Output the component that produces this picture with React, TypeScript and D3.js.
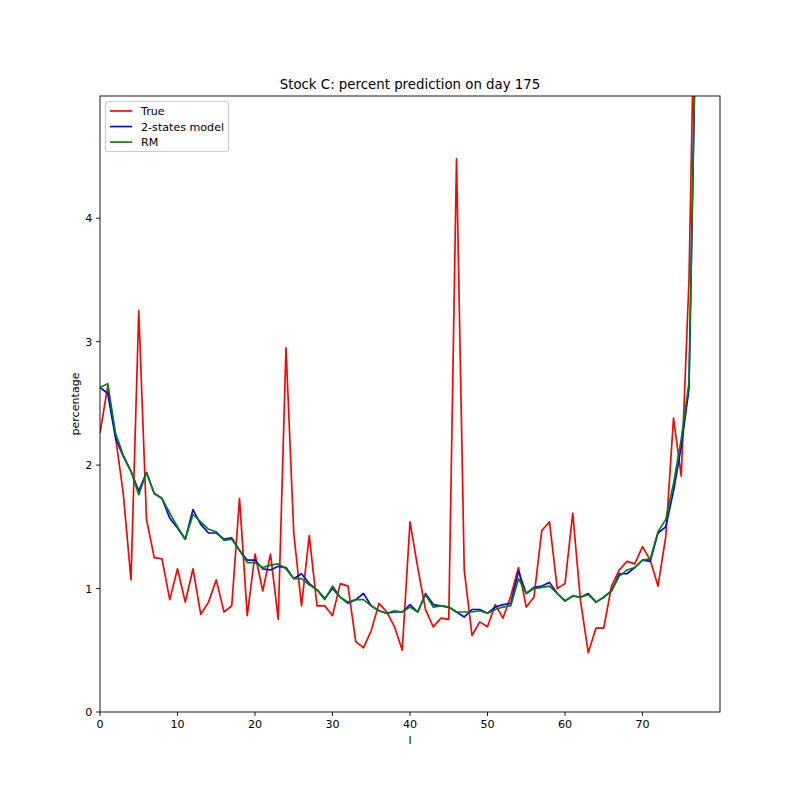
import React from 'react';
import * as d3 from 'd3';

// values, index 0..77
const trueVals = [
  2.26, 2.64, 2.23, 1.77, 1.07, 3.25, 1.56, 1.25, 1.24, 0.91,
  1.16, 0.89, 1.16, 0.79, 0.89, 1.07, 0.81, 0.86, 1.73, 0.78,
  1.28, 0.98, 1.28, 0.75, 2.95, 1.45, 0.86, 1.43, 0.86, 0.86,
  0.78, 1.04, 1.02, 0.57, 0.52, 0.66, 0.88, 0.81, 0.69, 0.5,
  1.54, 1.17, 0.83, 0.69, 0.76, 0.75, 4.48, 1.15, 0.62, 0.73,
  0.69, 0.87, 0.76, 0.94, 1.17, 0.85, 0.93, 1.47, 1.54, 1.0,
  1.04, 1.61, 0.9, 0.48, 0.68, 0.68, 1.02, 1.15, 1.22, 1.2,
  1.34, 1.23, 1.02, 1.42, 2.38, 1.91, 3.5, 6.8,
];
const twoStates = [
  2.63, 2.58, 2.22, 2.07, 1.95, 1.79, 1.94, 1.77, 1.73, 1.57,
  1.49, 1.4, 1.64, 1.52, 1.45, 1.45, 1.4, 1.41, 1.31, 1.23,
  1.23, 1.16, 1.15, 1.18, 1.17, 1.08, 1.12, 1.04, 0.99, 0.92,
  1.0, 0.93, 0.88, 0.91, 0.96, 0.86, 0.82, 0.8, 0.81, 0.81,
  0.87, 0.81, 0.96, 0.87, 0.86, 0.85, 0.81, 0.77, 0.83, 0.83,
  0.8, 0.85, 0.87, 0.88, 1.14, 0.96, 1.01, 1.02, 1.05, 0.96,
  0.9, 0.94, 0.93, 0.96, 0.89, 0.93, 0.98, 1.12, 1.12, 1.17,
  1.23, 1.22, 1.45, 1.5, 1.79, 2.15, 2.62, 6.05,
];
const rmVals = [
  2.63, 2.66, 2.26, 2.08, 1.95, 1.76, 1.94, 1.77, 1.73, 1.61,
  1.5, 1.4, 1.6, 1.54, 1.48, 1.46, 1.39, 1.4, 1.31, 1.21,
  1.21, 1.17, 1.19, 1.2, 1.16, 1.08, 1.08, 1.03, 0.99, 0.91,
  1.02, 0.93, 0.89, 0.91, 0.91, 0.86, 0.82, 0.8, 0.82, 0.81,
  0.85, 0.81, 0.95, 0.85, 0.86, 0.85, 0.81, 0.81, 0.81, 0.82,
  0.8, 0.83, 0.85, 0.86, 1.08, 0.96, 1.0, 1.01, 1.02, 0.96,
  0.9, 0.94, 0.93, 0.95, 0.89, 0.93, 0.98, 1.1, 1.15, 1.17,
  1.23, 1.24, 1.46, 1.56, 1.85, 2.21, 2.67, 6.0,
];

const seriesNames = ['True', '2-states model', 'RM'];
const seriesColors = ['#ff0000', '#0000ff', '#008000'];
const xTicks = [0, 10, 20, 30, 40, 50, 60, 70];
const yTicks = [0, 1, 2, 3, 4];

const W = 800;
const H = 800;
const margin = { top: 96, right: 80, bottom: 88, left: 100 };
const font = '"DejaVu Sans", sans-serif';
const fs = 11.1;

export default function App() {
  const x = d3.scaleLinear().domain([0, 80]).range([margin.left, W - margin.right]);
  const y = d3.scaleLinear().domain([0, 4.99]).range([H - margin.bottom, margin.top]);

  const line = d3
    .line<number>()
    .x((_, i) => x(i))
    .y((d) => y(d));

  const series = [trueVals, twoStates, rmVals];
  const x0 = margin.left;
  const x1 = W - margin.right;
  const y0 = H - margin.bottom;
  const y1 = margin.top;
  const tick = 3.89;

  // legend layout (matplotlib-ish units)
  const lx = x0 + 5.56;
  const ly = y1 + 5.56;
  const rowH = 15.56;

  return (
    <svg
      width={W}
      height={H}
      style={{ position: 'absolute', left: 0, top: 0, background: '#fff' }}
      fontFamily={font}
    >
      <rect x={0} y={0} width={W} height={H} fill="#fff" />
      <defs>
        <clipPath id="plot">
          <rect x={x0} y={y1} width={x1 - x0} height={y0 - y1} />
        </clipPath>
      </defs>

      <g clipPath="url(#plot)">
        {series.map((s, k) => (
          <path
            key={k}
            d={line(s) || ''}
            fill="none"
            stroke={seriesColors[k]}
            strokeWidth={1.67}
            strokeLinejoin="round"
          />
        ))}
      </g>

      {/* spines */}
      <rect x={x0} y={y1} width={x1 - x0} height={y0 - y1} fill="none" stroke="#000" strokeWidth={0.9} />

      {/* x axis */}
      {xTicks.map((t) => (
        <g key={'x' + t}>
          <line x1={x(t)} x2={x(t)} y1={y0} y2={y0 + tick} stroke="#000" strokeWidth={0.9} />
          <text x={x(t)} y={y0 + 16} fontSize={fs} textAnchor="middle" fill="#000">
            {t}
          </text>
        </g>
      ))}
      <text x={(x0 + x1) / 2} y={744} fontSize={fs} textAnchor="middle">
        l
      </text>

      {/* y axis */}
      {yTicks.map((t) => (
        <g key={'y' + t}>
          <line x1={x0 - tick} x2={x0} y1={y(t)} y2={y(t)} stroke="#000" strokeWidth={0.9} />
          <text x={x0 - 7.8} y={y(t) + 4} fontSize={fs} textAnchor="end" fill="#000">
            {t}
          </text>
        </g>
      ))}
      <text
        transform={`translate(79,${(y0 + y1) / 2}) rotate(-90)`}
        fontSize={fs}
        textAnchor="middle"
      >
        percentage
      </text>

      {/* title */}
      <text x={(x0 + x1) / 2} y={89.3} fontSize={13.33} textAnchor="middle">
        Stock C: percent prediction on day 175
      </text>

      {/* legend */}
      <rect
        x={lx}
        y={ly}
        width={123}
        height={50}
        rx={2.2}
        fill="#fff"
        fillOpacity={0.8}
        stroke="#cccccc"
        strokeWidth={1.1}
      />
      {seriesNames.map((name, k) => {
        const cy = ly + 4.44 + 5 + k * rowH;
        return (
          <g key={name}>
            <line x1={lx + 4.44} x2={lx + 26.6} y1={cy} y2={cy} stroke={seriesColors[k]} strokeWidth={1.67} />
            <text x={lx + 35.5} y={cy + 4} fontSize={fs}>
              {name}
            </text>
          </g>
        );
      })}
    </svg>
  );
}
